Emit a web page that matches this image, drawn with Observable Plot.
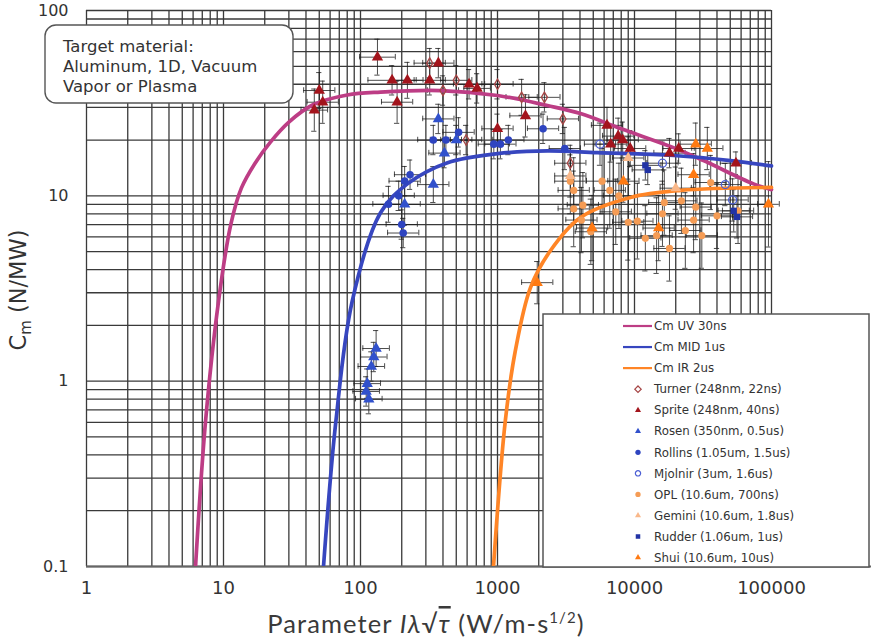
<!DOCTYPE html>
<html>
<head>
<meta charset="utf-8">
<script src="https://cdn.jsdelivr.net/npm/d3@7"></script>
<script src="https://cdn.jsdelivr.net/npm/@observablehq/plot@0.6"></script>
<style>
  body { margin: 0; background: #fff; }
  #chart { position: relative; width: 871px; height: 643px; }
</style>
</head>
<body>
<div id="chart"></div>
<script>
// Axis tick labels
const xTicks = [1, 10, 100, 1000, 10000, 100000];
const yTicks = [0.1, 1, 10, 100];

// Model curves: [parameter, Cm]
const curveUV = [[6.25,0.1],[7.4,0.61],[9.2,2.7],[11.3,7],[13.5,11],[17,15],[22,19.5],[30,25],[45,31],[80,35],[140,36.3],[384,37],[1000,34.8],[2317,30.7],[4034,27.8],[8000,23],[19270,18.2],[31900,15.5],[73900,11.6],[100000,10.8]];
const curveMID = [[53.7,0.1],[66,0.6],[87,2.7],[140,8.1],[220,11.6],[432,15.1],[1000,16.9],[2317,17.5],[5370,17.1],[19270,16.5],[50200,15.5],[100000,14.5]];
const curveIR = [[935,0.1],[1140,0.61],[1350,1.46],[1741,3.2],[2438,5.07],[4034,7.64],[9350,9.8],[21700,10.7],[100000,11.1]];

// Measurements: [parameter, Cm, x error factor, y error factor]
const turner = [[320,52,1.3,1.2],[400,37,1.3,1.2],[500,42,1.3,1.2],[590,20,1.3,1.2],[1000,40,1.3,1.2],[1500,34,1.3,1.25],[2200,34,1.3,1.2],[3000,26,1.3,1.2],[3400,15,1.3,1.25]];
const sprite = [[46,29,1.25,1.3],[50,37,1.3,1.25],[53,32,1.3,1.3],[133,56,1.35,1.25],[170,42,1.5,1.2],[220,42,1.3,1.25],[185,32,1.3,1.3],[320,42,1.3,1.2],[370,52,1.3,1.2],[620,40,1.3,1.2],[710,38,1.25,1.2],[1600,27,1.3,1.3],[1000,23,1.3,1.2],[6300,24,1.3,1.25],[7600,21,1.3,1.25],[6700,19,1.3,1.25],[8200,20,1.3,1.25],[9300,18,1.3,1.25],[21000,18,1.3,1.2],[18000,17,1.3,1.2],[55000,15,1.3,1.15]];
const rosen = [[370,26,1.3,1.2],[410,17,1.3,1.2],[500,20,1.3,1.2],[340,11.5,1.3,1.25],[210,9,1.3,1.3],[130,1.5,1.25,1.25],[125,1.35,1.25,1.2],[120,1.2,1.25,1.2],[112,0.97,1.25,1.2],[110,0.88,1.25,1.2],[115,0.8,1.25,1.2]];
const rollins = [[340,20,1.3,1.2],[420,20,1.3,1.2],[520,22,1.3,1.2],[940,19,1.3,1.2],[1050,19,1.3,1.2],[1200,20,1.3,1.2],[2150,23,1.3,1.2],[3100,18,1.3,1.3],[230,13,1.3,1.2],[210,12,1.3,1.2],[190,10,1.3,1.2],[160,9,1.3,1.25],[200,7,1.3,1.2],[205,6.3,1.3,1.2]];
const mjolnir = [[5600,19,1.3,1.3],[16000,15,1.3,1.3],[46000,11.5,1.3,1.3],[52000,9.5,1.3,1.3]];
const opl = [[3400,12,1.3,1.5],[3600,10.7,1.3,1.5],[5800,12,1.3,1.5],[6600,10.7,1.3,1.6],[7700,10,1.3,1.5],[3600,8.5,1.3,1.6],[4200,8.9,1.3,1.5],[12000,5.9,1.3,1.5],[14500,6.1,1.3,1.6],[16000,8,1.3,1.5],[16500,9.2,1.3,1.5],[23500,6.5,1.3,1.6],[27000,7.4,1.3,1.5],[28000,8.7,1.3,1.5],[22000,9.4,1.3,1.5],[36000,11.8,1.3,1.4],[57000,8.3,1.3,1.5],[4800,6.4,1.3,1.5],[9000,7.2,1.3,1.6],[18000,5.2,1.3,1.5],[4100,7.4,1.3,1.5],[7300,8.2,1.3,1.5],[10500,7.3,1.3,1.6],[31000,6.1,1.3,1.5],[40000,7.8,1.3,1.5]];
const gemini = [[3400,12.8,1.3,1.3],[9000,16,1.3,1.3],[20000,11,1.3,1.3]];
const rudder = [[53000,8.3,1.3,1.3],[56000,7.7,1.3,1.3],[12000,14.6,1.3,1.2],[12500,13.8,1.3,1.2]];
const shui = [[1950,3.4,1.3,1.3],[28000,19,1.3,1.3],[34000,18,1.3,1.3],[27000,13,1.3,1.3],[8300,12,1.3,1.3],[4900,6.7,1.3,1.5],[15000,6.7,1.3,1.5],[95000,9,1.2,1.7]];

const curveNames = ["Cm UV 30ns", "Cm MID 1us", "Cm IR 2us"];
const seriesNames = ["Turner (248nm, 22ns)", "Sprite (248nm, 40ns)", "Rosen (350nm, 0.5us)", "Rollins (1.05um, 1.5us)", "Mjolnir (3um, 1.6us)", "OPL (10.6um, 700ns)", "Gemini (10.6um, 1.8us)", "Rudder (1.06um, 1us)", "Shui (10.6um, 10us)"];
const noteLines = ["Target material:", "Aluminum, 1D, Vacuum", "Vapor or Plasma"];

const curves = [
  {name: curveNames[0], pts: curveUV, color: "#bd3d85"},
  {name: curveNames[1], pts: curveMID, color: "#3746bf"},
  {name: curveNames[2], pts: curveIR, color: "#ff8526"}
];
const series = [
  {name: seriesNames[0], data: turner, symbol: "diamond", fill: "none", stroke: "#a64545", r: 3.2},
  {name: seriesNames[1], data: sprite, symbol: "triangle", fill: "#a3141c", stroke: "none", r: 4.2},
  {name: seriesNames[2], data: rosen, symbol: "triangle", fill: "#3151cc", stroke: "none", r: 4.2},
  {name: seriesNames[3], data: rollins, symbol: "circle", fill: "#2e44c0", stroke: "none", r: 3.8},
  {name: seriesNames[4], data: mjolnir, symbol: "circle", fill: "none", stroke: "#4c5fd4", r: 4},
  {name: seriesNames[5], data: opl, symbol: "circle", fill: "#f59c55", stroke: "none", r: 3.6},
  {name: seriesNames[6], data: gemini, symbol: "triangle", fill: "#f9b88a", stroke: "none", r: 4},
  {name: seriesNames[7], data: rudder, symbol: "square", fill: "#2233a5", stroke: "none", r: 3.6},
  {name: seriesNames[8], data: shui, symbol: "triangle", fill: "#ff7a12", stroke: "none", r: 4.2}
];

// Log-spaced grid (1..9 per decade)
const xGrid = [];
for (let e = 0; e < 5; e++) for (let m = 1; m < 10; m++) xGrid.push(m * Math.pow(10, e));
xGrid.push(100000);
const yGrid = [];
for (let e = -1; e < 2; e++) for (let m = 1; m < 10; m++) yGrid.push(+(m * Math.pow(10, e)).toPrecision(3));
yGrid.push(100);

const pts = series.flatMap(s => s.data.map(([x, y, ex, ey]) => ({x, y, ex, ey})));
const capX = 1.045, capY = 1.035;
const bar = {stroke: "#1e1e1e", strokeWidth: 0.8};

const marks = [
  Plot.ruleX(xGrid, {x: d => d, y1: 0.1, y2: 100, stroke: "#3a3a3a", strokeWidth: 1.3}),
  Plot.ruleY(yGrid, {y: d => d, x1: 1, x2: 100000, stroke: "#3a3a3a", strokeWidth: 1.3}),
  Plot.ruleY([0.1], {x1: 1, x2: 1e6, stroke: "#666", strokeWidth: 2}),
  // error bars with caps
  Plot.ruleX(pts, {x: "x", y1: d => d.y / d.ey, y2: d => d.y * d.ey, ...bar}),
  Plot.ruleY(pts, {y: "y", x1: d => d.x / d.ex, x2: d => d.x * d.ex, ...bar}),
  Plot.ruleY(pts, {y: d => d.y * d.ey, x1: d => d.x / capX, x2: d => d.x * capX, ...bar}),
  Plot.ruleY(pts, {y: d => d.y / d.ey, x1: d => d.x / capX, x2: d => d.x * capX, ...bar}),
  Plot.ruleX(pts, {x: d => d.x * d.ex, y1: d => d.y / capY, y2: d => d.y * capY, ...bar}),
  Plot.ruleX(pts, {x: d => d.x / d.ex, y1: d => d.y / capY, y2: d => d.y * capY, ...bar}),
  ...curves.map(c => Plot.line(c.pts, {x: d => d[0], y: d => d[1], stroke: c.color, strokeWidth: 3.7, curve: "catmull-rom", clip: true})),
  ...series.map(s => Plot.dot(s.data, {x: d => d[0], y: d => d[1], symbol: s.symbol, r: s.r, fill: s.fill, stroke: s.stroke, strokeWidth: 1.3})),
  Plot.axisX(xTicks, {tickSize: 0, tickPadding: 15, fontSize: 18, color: "#333", tickFormat: d => String(d), label: null}),
  Plot.axisY(yTicks, {tickSize: 0, tickPadding: 18, fontSize: 16, color: "#333", tickFormat: d => String(d), label: null})
];

const chart = Plot.plot({
  width: 871,
  height: 643,
  marginLeft: 86,
  marginRight: 0,
  marginTop: 10,
  marginBottom: 77,
  style: {fontFamily: "DejaVu Sans, Verdana, sans-serif", background: "#fff", overflow: "hidden"},
  x: {type: "log", domain: [1, Math.pow(10, 785 / 137)]},
  y: {type: "log", domain: [0.1, 100]},
  marks
});
document.getElementById("chart").appendChild(chart);

const svg = d3.select(chart);
const ink = "#333";

// Annotation box
const note = svg.append("g").attr("text-anchor", "start");
note.append("rect").attr("x", 45).attr("y", 25).attr("width", 248).attr("height", 78)
  .attr("rx", 11).attr("fill", "#fff").attr("stroke", "#555").attr("stroke-width", 1.4);
noteLines.forEach((t, i) => note.append("text").attr("x", 63).attr("y", 52 + i * 20)
  .attr("font-size", 16.5).attr("fill", ink).text(t));

// Legend
const lg = svg.append("g").attr("font-size", 11.8).attr("fill", ink).attr("text-anchor", "start");
lg.append("rect").attr("x", 543).attr("y", 314).attr("width", 326).attr("height", 253)
  .attr("fill", "#fff").attr("stroke", "#555").attr("stroke-width", 1.5);
const rowY = i => 326 + i * 21.05;
curves.forEach((c, i) => {
  lg.append("line").attr("x1", 623).attr("x2", 652).attr("y1", rowY(i)).attr("y2", rowY(i))
    .attr("stroke", c.color).attr("stroke-width", 2.2);
  lg.append("text").attr("x", 654).attr("y", rowY(i)).attr("dy", "0.36em").text(c.name);
});
const symType = {diamond: d3.symbolDiamond2, triangle: d3.symbolTriangle2, circle: d3.symbolCircle, square: d3.symbolSquare2};
series.forEach((s, j) => {
  const i = j + 3;
  lg.append("path").attr("d", d3.symbol(symType[s.symbol], s.symbol === "circle" ? 22 : 26)())
    .attr("transform", `translate(638,${rowY(i)})`)
    .attr("fill", s.fill).attr("stroke", s.stroke).attr("stroke-width", 1.2);
  lg.append("text").attr("x", 654).attr("y", rowY(i)).attr("dy", "0.36em").text(s.name);
});

// Axis titles
const yl = svg.append("text").attr("transform", "translate(26,290) rotate(-90)")
  .attr("text-anchor", "middle").attr("font-size", 22.5).attr("fill", ink);
yl.append("tspan").text("C");
yl.append("tspan").attr("font-size", 15).attr("dy", 5).text("m");
yl.append("tspan").attr("dy", -5).text(" (N/MW)");

const xl = svg.append("text").attr("x", 426).attr("y", 633).attr("text-anchor", "middle")
  .attr("font-family", "Lato, 'Open Sans', sans-serif").attr("font-size", 25.5)
  .attr("letter-spacing", 1.1).attr("fill", "#3a3a3a");
xl.append("tspan").text("Parameter ");
xl.append("tspan").attr("font-style", "italic").text("Iλ");
xl.append("tspan").text("√");
xl.append("tspan").attr("font-style", "italic").attr("text-decoration", "overline").text("τ");
xl.append("tspan").text(" (W/m-s");
xl.append("tspan").attr("font-size", 15).attr("dy", -10).text("1/2");
xl.append("tspan").attr("dy", 10).text(")");
</script>
</body>
</html>
